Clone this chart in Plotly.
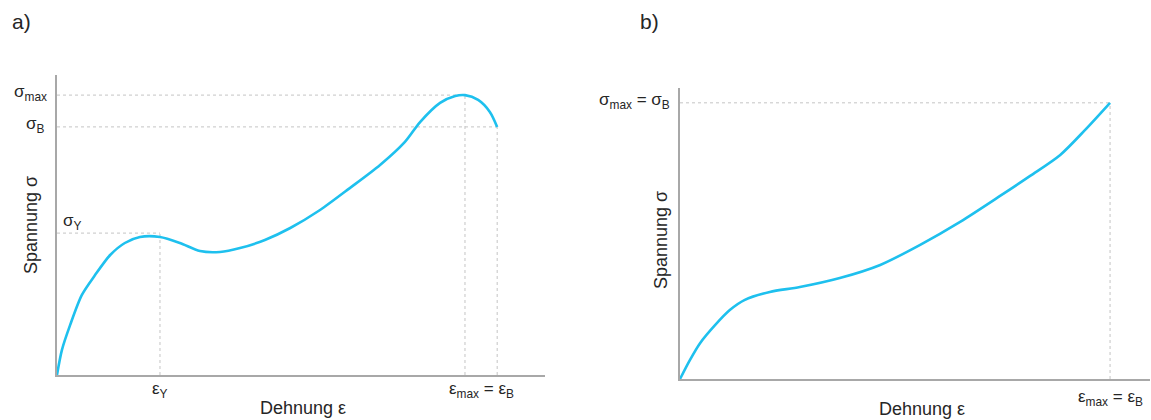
import plotly.graph_objects as go

# Panel a: strain/stress (relative units)
a_strain = [0, 0.10, 0.27, 0.51, 0.78, 1.09, 1.39, 1.70, 2.11, 2.52, 2.93, 3.34, 3.75,
            4.26, 4.78, 5.39, 6.00, 6.62, 7.13, 7.44, 7.85, 8.16, 8.36, 8.63, 8.87, 9.02]
a_stress = [0, 0.83, 1.67, 2.67, 3.33, 4.00, 4.40, 4.60, 4.60, 4.40, 4.13, 4.10, 4.23,
            4.50, 4.90, 5.50, 6.23, 7.00, 7.77, 8.43, 9.07, 9.30, 9.33, 9.17, 8.77, 8.27]
a_eps_Y, a_eps_max, a_eps_B = 2.11, 8.36, 9.02
a_sig_Y, a_sig_B, a_sig_max = 4.73, 8.27, 9.33

# Panel b
b_strain = [0, 0.21, 0.43, 0.75, 1.06, 1.38, 1.91, 2.55, 3.40, 4.26, 5.11, 5.96,
            6.81, 7.45, 8.09, 8.62, 9.15]
b_stress = [0, 0.65, 1.24, 1.86, 2.37, 2.72, 2.99, 3.16, 3.47, 3.92, 4.61, 5.40,
            6.29, 6.98, 7.70, 8.56, 9.49]
b_eps_max = 9.15
b_sig_max = 9.49

W, H = 1151, 420
LINE = "#1ec0ee"
AX = "#a8a8a8"
GUIDE = "#c4c4c4"
FONT = "Liberation Sans, Arial, sans-serif"
TXT = "#262626"

fig = go.Figure()
fig.add_trace(go.Scatter(x=a_strain, y=a_stress, mode="lines",
                         line=dict(color=LINE, width=2.6, shape="spline", smoothing=0.8),
                         xaxis="x", yaxis="y", showlegend=False, hoverinfo="skip"))
fig.add_trace(go.Scatter(x=b_strain, y=b_stress, mode="lines",
                         line=dict(color=LINE, width=2.6, shape="spline", smoothing=0.8),
                         xaxis="x2", yaxis="y2", showlegend=False, hoverinfo="skip"))

def ax(domain, anchor, rng):
    return dict(domain=domain, anchor=anchor, range=rng, showline=True, linecolor=AX,
                linewidth=1.5, showgrid=False, zeroline=False, showticklabels=False,
                ticks="", fixedrange=True)

fig.update_layout(
    width=W, height=H, margin=dict(l=0, r=0, t=0, b=0),
    paper_bgcolor="white", plot_bgcolor="white",
    xaxis=ax([57 / W, 545 / W], "y", [0, 10]),
    yaxis=ax([(H - 375) / H, (H - 75) / H], "x", [0, 10]),
    xaxis2=ax([680 / W, 1150 / W], "y2", [0, 10]),
    yaxis2=ax([(H - 379) / H, (H - 88) / H], "x2", [0, 10]),
    font=dict(family=FONT, color=TXT),
)

shapes = []
def guide(xr, yr, x0, y0, x1, y1):
    shapes.append(dict(type="line", xref=xr, yref=yr, x0=x0, y0=y0, x1=x1, y1=y1,
                       line=dict(color=GUIDE, width=1, dash="dot"), layer="below"))

# panel a guides
guide("x", "y", 0, a_sig_max, a_eps_max, a_sig_max)
guide("x", "y", 0, a_sig_B, a_eps_B, a_sig_B)
guide("x", "y", 0, a_sig_Y, a_eps_Y, a_sig_Y)
guide("x", "y", a_eps_Y, 0, a_eps_Y, a_sig_Y)
guide("x", "y", a_eps_max, 0, a_eps_max, a_sig_max)
guide("x", "y", a_eps_B, 0, a_eps_B, a_sig_B)
# panel b guides
guide("x2", "y2", 0, b_sig_max, b_eps_max, b_sig_max)
guide("x2", "y2", b_eps_max, 0, b_eps_max, b_sig_max)
fig.update_layout(shapes=shapes)

ann = []
def a(text, x, y, xr="paper", yr="paper", size=13, xanchor="center", yanchor="middle",
      angle=0, xshift=0, yshift=0):
    ann.append(dict(text=text, x=x, y=y, xref=xr, yref=yr, showarrow=False,
                    font=dict(size=size, family=FONT, color=TXT), xanchor=xanchor,
                    yanchor=yanchor, textangle=angle, xshift=xshift, yshift=yshift))

a("a)", 10 / W, 1 - 21 / H, size=21, xanchor="left")
a("b)", 638 / W, 1 - 21 / H, size=21, xanchor="left")

TS = 17
LS = 18
# panel a labels
a("σ<sub>max</sub>", 0, a_sig_max, "x", "y", size=TS, xanchor="right", xshift=-8, yshift=2)
a("σ<sub>B</sub>", 0, a_sig_B, "x", "y", size=TS, xanchor="right", xshift=-10, yshift=2)
a("σ<sub>Y</sub>", 0, a_sig_Y, "x", "y", size=TS, xanchor="left", xshift=4, yshift=11)
a("ε<sub>Y</sub>", a_eps_Y, 0, "x", "y", size=TS, yanchor="top", yshift=-2)
a("ε<sub>max</sub> = ε<sub>B</sub>", (a_eps_max + a_eps_B) / 2, 0, "x", "y", size=TS,
  yanchor="top", yshift=-2)
a("Dehnung ε", 303 / W, 1 - 408 / H, size=LS)
a("Spannung σ", 31 / W, 1 - 225 / H, size=LS, angle=-90)

# panel b labels
a("σ<sub>max</sub> = σ<sub>B</sub>", 0, b_sig_max, "x2", "y2", size=TS, xanchor="right",
  xshift=-8, yshift=2)
a("ε<sub>max</sub> = ε<sub>B</sub>", b_eps_max, 0, "x2", "y2", size=TS, yanchor="top",
  yshift=-6)
a("Dehnung ε", 922 / W, 1 - 409 / H, size=LS)
a("Spannung σ", 661 / W, 1 - 240 / H, size=LS, angle=-90)

fig.update_layout(annotations=ann)
fig.write_html("out.html")
